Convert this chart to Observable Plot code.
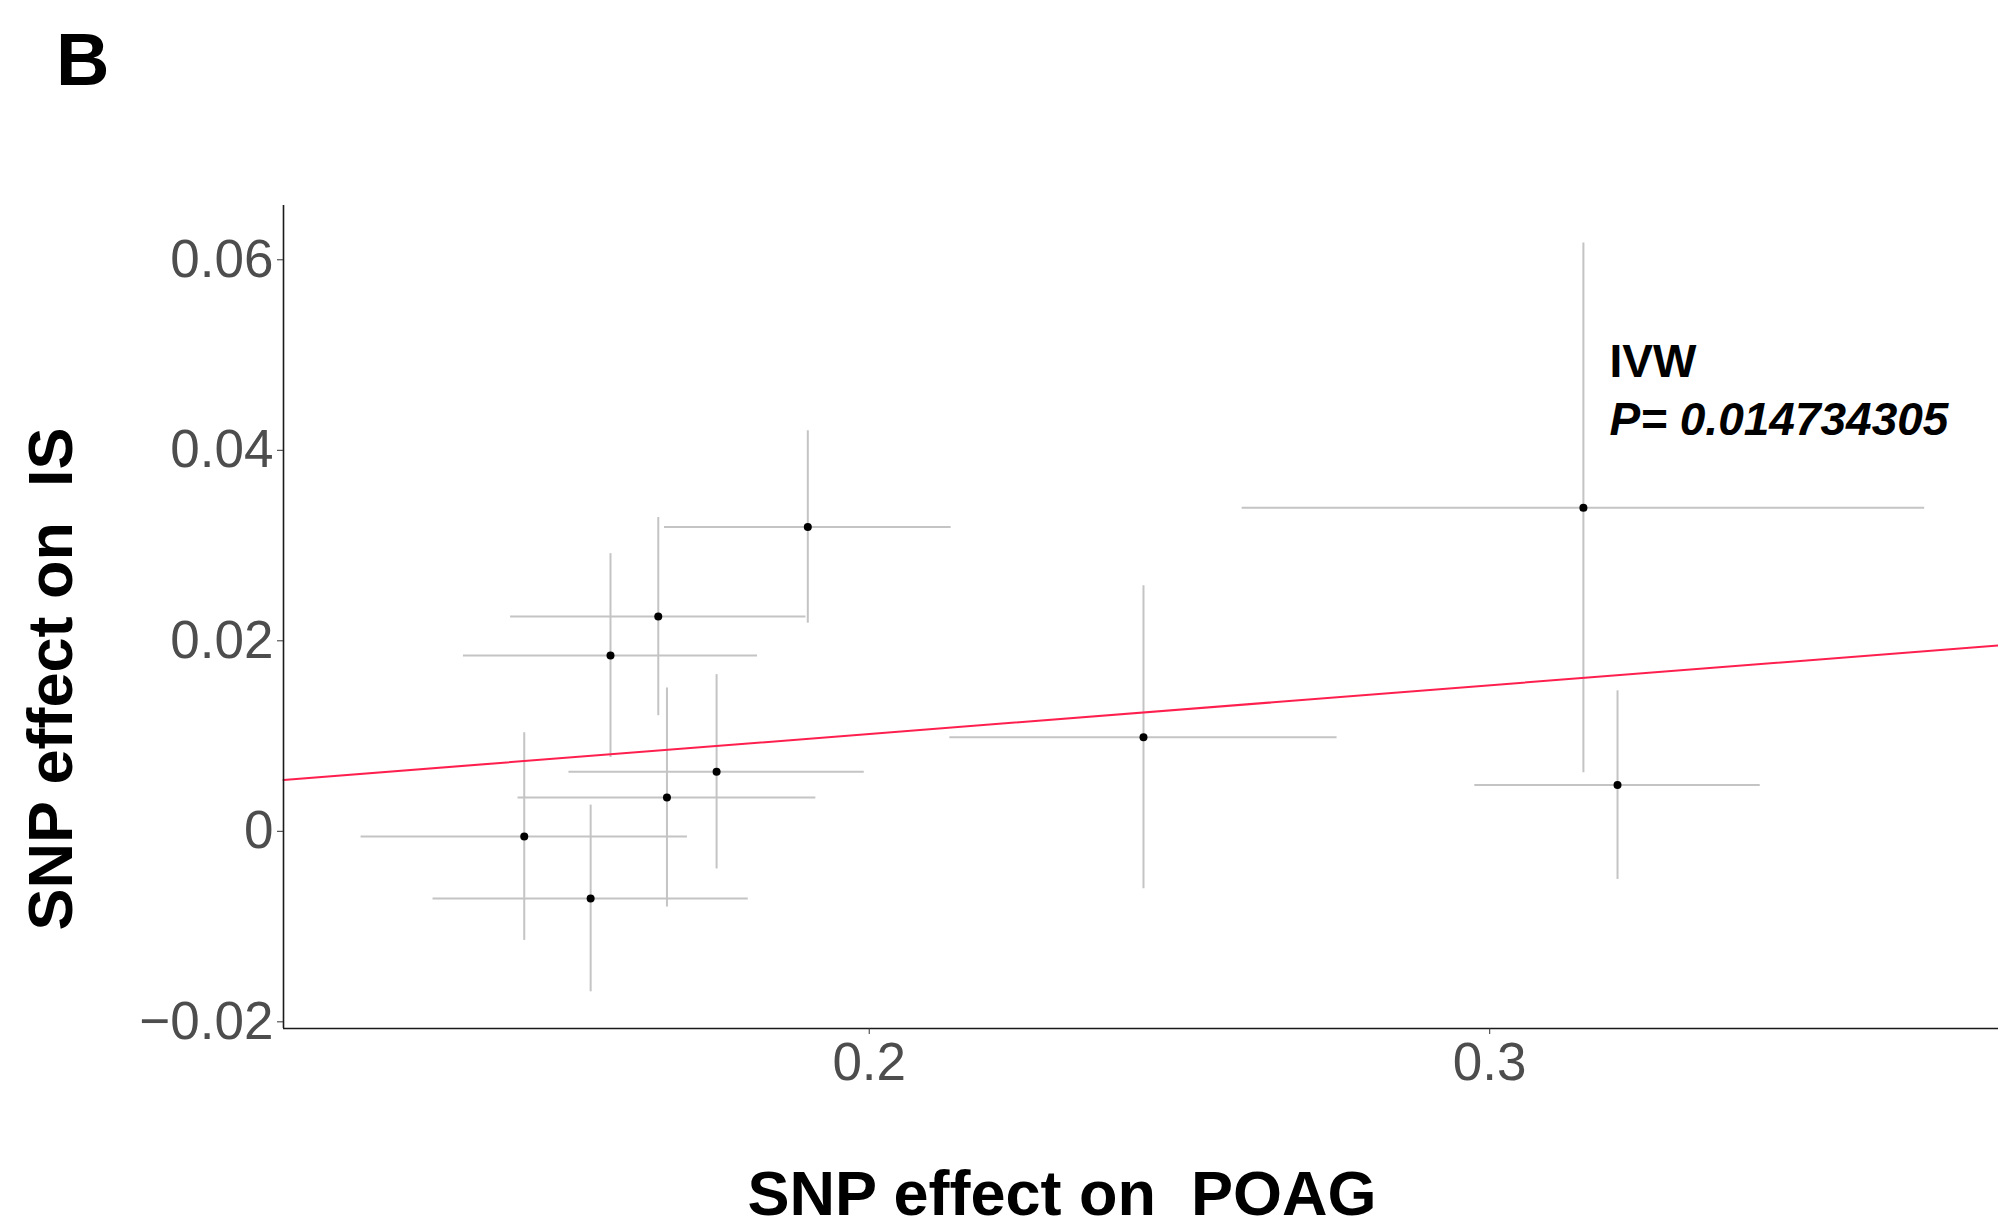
<!DOCTYPE html>
<html>
<head>
<meta charset="utf-8">
<script src="https://cdn.jsdelivr.net/npm/d3@7"></script>
<script src="https://cdn.jsdelivr.net/npm/@observablehq/plot@0.6"></script>
<style>
  html, body { margin: 0; padding: 0; background: #fff; }
  #chart { width: 1998px; height: 1225px; overflow: hidden; }
</style>
</head>
<body>
<div id="chart"></div>
<script>
// SNP effects
const snp_x = [0.1444, 0.1551, 0.1583, 0.1660, 0.1674, 0.1754, 0.1901, 0.2442, 0.3151, 0.3206];
const snp_y = [-0.00055, -0.00705, 0.01845, 0.02254, 0.00355, 0.00625, 0.03195, 0.00988, 0.03396, 0.00485];
const se_x  = [0.0263, 0.0254, 0.0237, 0.0238, 0.0240, 0.0238, 0.0231, 0.0312, 0.0550, 0.0230];
const se_y  = [0.0109, 0.0098, 0.0107, 0.0104, 0.0115, 0.0102, 0.0101, 0.0159, 0.0278, 0.0099];

// IVW estimate (slope through origin) and annotation
const ivw_slope = 0.0511;
const ivw_label = "IVW";
const ivw_p = "P= 0.014734305";

// axes
const x_ticks = [0.2, 0.3];
const y_ticks = [-0.02, 0, 0.02, 0.04, 0.06];
const x_domain = [0.1056, 0.3820];
const y_domain = [-0.0207, 0.0657];
const x_title = "SNP effect on  POAG";
const y_title = "SNP effect on  IS";
const panel_tag = "B";

const data = snp_x.map((x, i) => ({x, y: snp_y[i], sex: se_x[i], sey: se_y[i]}));
const ivwLine = x_domain.map(x => ({x, y: ivw_slope * x}));

const W = 1998, H = 1225;
const fmtY = d => d === 0 ? "0" : (d < 0 ? "\u2212" : "") + Math.abs(d).toFixed(2);

const plot = Plot.plot({
  width: W,
  height: H,
  marginLeft: 283,
  marginRight: 0,
  marginTop: 205,
  marginBottom: H - 1028,
  style: {fontFamily: "'Liberation Sans', Arial, Helvetica, sans-serif", fontSize: "53px", background: "#fff"},
  x: {domain: x_domain},
  y: {domain: y_domain},
  marks: [
    Plot.ruleX(data, {x: "x", y1: d => d.y - d.sey, y2: d => d.y + d.sey, stroke: "#c4c4c4", strokeWidth: 2}),
    Plot.ruleY(data, {y: "y", x1: d => d.x - d.sex, x2: d => d.x + d.sex, stroke: "#c4c4c4", strokeWidth: 2}),
    Plot.line(ivwLine, {x: "x", y: "y", stroke: "#ff1f4e", strokeWidth: 2}),
    Plot.dot(data, {x: "x", y: "y", r: 4, fill: "#000", stroke: null}),
    Plot.ruleX([x_domain[0]], {stroke: "#1a1a1a", strokeWidth: 1.6}),
    Plot.ruleY([y_domain[0]], {stroke: "#1a1a1a", strokeWidth: 1.6}),
    Plot.axisX({ticks: x_ticks, tickFormat: d => String(d), tickSize: 6, tickPadding: 8, label: null, stroke: "#333", fill: "#4d4d4d"}),
    Plot.axisY({ticks: y_ticks, tickFormat: fmtY, tickSize: 6, tickPadding: 4, label: null, stroke: "#333", fill: "#4d4d4d"}),
    Plot.text([ivw_label], {x: () => 0.3193, y: () => 0.04769, text: d => d, textAnchor: "start", lineAnchor: "bottom", fontSize: 46, fontWeight: "bold", fill: "#000"}),
    Plot.text([ivw_p], {x: () => 0.3193, y: () => 0.04161, text: d => d, textAnchor: "start", lineAnchor: "bottom", fontSize: 46, fontWeight: "bold", fontStyle: "italic", fill: "#000"})
  ]
});

const svg = d3.select(plot);
svg.append("text")
  .attr("x", 56).attr("y", 85)
  .attr("text-anchor", "start")
  .attr("font-size", 74).attr("font-weight", "bold").attr("fill", "#000")
  .text(panel_tag);
svg.append("text")
  .attr("x", 1062).attr("y", 1215)
  .attr("text-anchor", "middle")
  .attr("font-size", 63).attr("font-weight", "bold").attr("fill", "#000")
  .text(x_title);
svg.append("text")
  .attr("transform", "translate(72,679) rotate(-90)")
  .attr("text-anchor", "middle")
  .attr("font-size", 63).attr("font-weight", "bold").attr("fill", "#000")
  .text(y_title);

document.getElementById("chart").appendChild(plot);
</script>
</body>
</html>
